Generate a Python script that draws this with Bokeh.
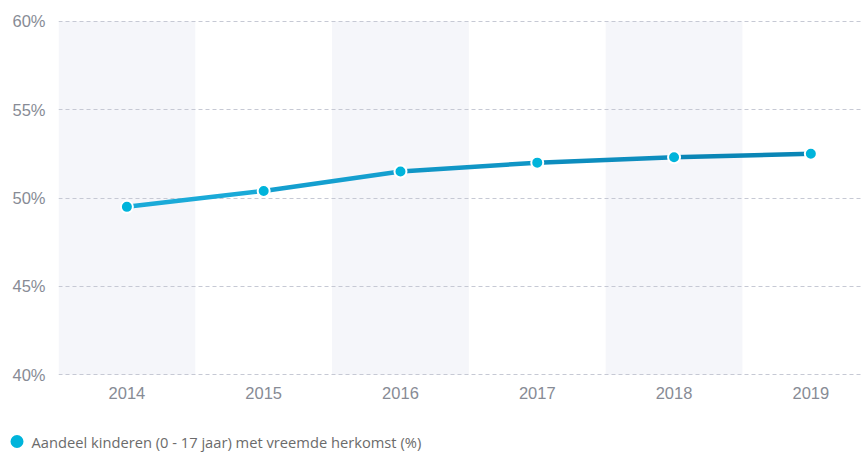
from bokeh.plotting import figure
from bokeh.layouts import column
from bokeh.models import Range1d, FixedTicker, PrintfTickFormatter
from bokeh.core.properties import value
from bokeh.embed import file_html
from bokeh.resources import INLINE

years = [2014, 2015, 2016, 2017, 2018, 2019]
values = [49.5, 50.4, 51.5, 52.0, 52.3, 52.5]
y_ticks = [40, 45, 50, 55, 60]
band_years = [2014, 2016, 2018]
series_label = "Aandeel kinderen (0 - 17 jaar) met vreemde herkomst (%)"
segment_colors = ["#1aaad8", "#149fcf", "#1096c6", "#0d8dbe", "#0a86b6"]
marker_color = "#00b4db"

p = figure(width=866, height=410, output_backend="svg", toolbar_location=None,
           x_range=Range1d(2013.5, 2019.385), y_range=Range1d(39.96, 60.04),
           min_border_left=58, min_border_right=3, min_border_top=20, min_border_bottom=35)
p.frame_align = False
p.outline_line_color = None
p.background_fill_color = "white"
p.border_fill_color = "white"

bands = p.vbar(x=band_years, width=1, top=60, bottom=40, fill_color="#f5f6fa", line_color=None)
bands.level = "image"

p.segment(x0=years[:-1], y0=values[:-1], x1=years[1:], y1=values[1:],
          line_color=segment_colors, line_width=4.5, line_cap="round")
p.scatter(years, values, size=12, fill_color=marker_color, line_color="white", line_width=2)

p.xgrid.visible = False
p.ygrid.ticker = FixedTicker(ticks=y_ticks)
p.ygrid.grid_line_color = "#c6c9d4"
p.ygrid.grid_line_dash = "4 3"
p.ygrid.grid_line_width = 1

for ax in (p.xaxis[0], p.yaxis[0]):
    ax.axis_line_color = None
    ax.major_tick_line_color = None
    ax.minor_tick_line_color = None
    ax.major_tick_out = 0
    ax.major_tick_in = 0
    ax.major_label_text_font = "Liberation Sans"
    ax.major_label_text_font_size = "16.5px"
    ax.major_label_text_color = "#878b95"

p.yaxis.major_label_standoff = 13
p.xaxis.major_label_standoff = 11
p.yaxis.ticker = FixedTicker(ticks=y_ticks)
p.yaxis.formatter = PrintfTickFormatter(format="%d%%")
p.xaxis.ticker = FixedTicker(ticks=years)

# legend strip (pixel-unit coordinate frame)
leg = figure(width=866, height=42, output_backend="svg", toolbar_location=None,
             x_range=Range1d(0, 866), y_range=Range1d(0, 42),
             x_axis_location=None, y_axis_location=None,
             min_border_left=0, min_border_right=0, min_border_top=0, min_border_bottom=0)
leg.frame_align = False
leg.outline_line_color = None
leg.xgrid.visible = False
leg.ygrid.visible = False
leg.border_fill_color = "white"
leg.background_fill_color = "white"
leg.scatter(x=[16.5], y=[11], size=13, fill_color=marker_color, line_color=None)
leg.text(x=[31], y=[11], text=[series_label], text_font=value("Open Sans"),
         text_font_size="14.7px", text_color="#6b6b6b", text_baseline="middle", text_align="left")

layout = column(p, leg, spacing=0)
open("out.html", "w").write(file_html(layout, INLINE))
